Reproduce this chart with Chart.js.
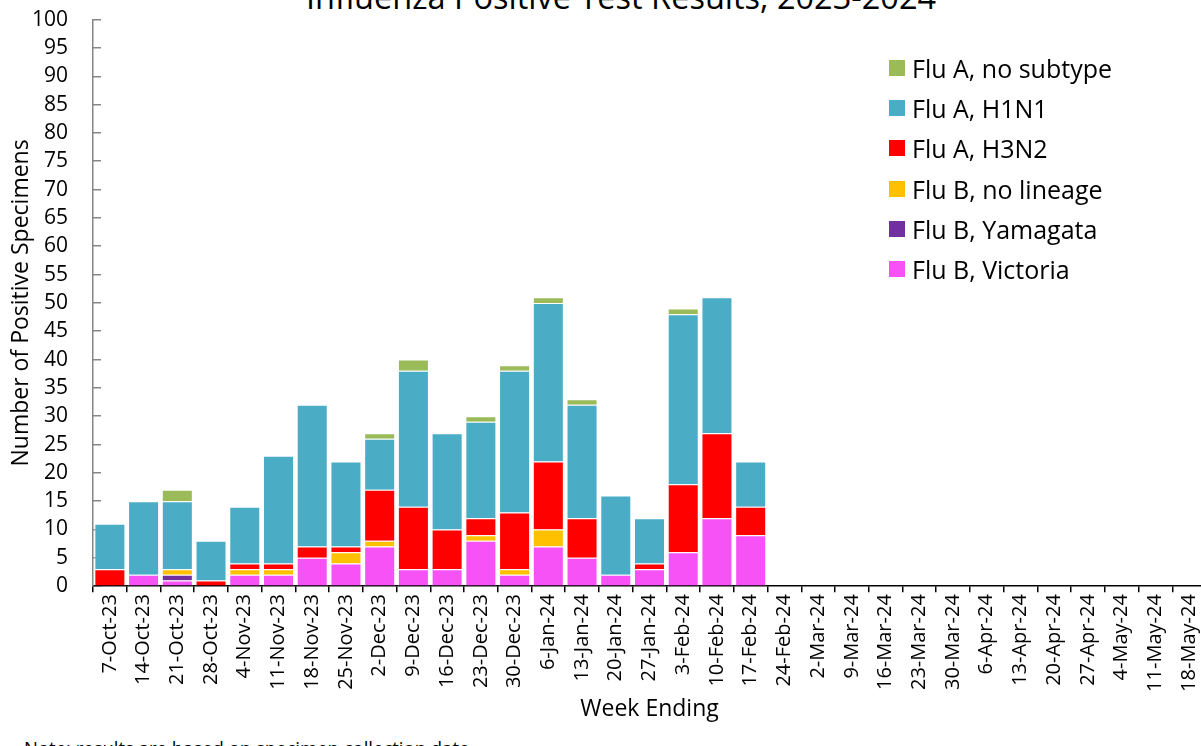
<!DOCTYPE html>
<html>
<head>
<meta charset="utf-8">
<script src="https://cdn.jsdelivr.net/npm/chart.js@4/dist/chart.umd.min.js"></script>
<style>
  html, body {
    margin: 0;
    padding: 0;
    width: 1201px;
    height: 746px;
    overflow: hidden;
    background: #fff;
    font-family: "Open Sans", sans-serif;
    color: #000;
  }
  #chartWrap {
    position: absolute;
    left: 0;
    top: -26.5px;
    width: 1240px;
    height: 749.5px;
  }
  #title {
    position: absolute;
    left: 0;
    width: 1242px;
    top: -19.5px;
    text-align: center;
    font-size: 32.5px;
    line-height: 1;
    white-space: nowrap;
  }
  #note {
    position: absolute;
    left: 24px;
    top: 739px;
    font-size: 18.5px;
    line-height: 1;
    white-space: nowrap;
  }
  #legend {
    position: absolute;
    left: 889px;
    top: 48px;
    font-size: 25px;
  }
  .legend-row {
    display: flex;
    align-items: center;
    height: 40.2px;
  }
  .legend-box {
    width: 16px;
    height: 16px;
    margin-right: 7px;
  }
</style>
</head>
<body>
<div id="title">Influenza Positive Test Results, 2023-2024</div>
<div id="chartWrap"><canvas id="fluChart"></canvas></div>
<div id="legend"></div>
<div id="note">Note: results are based on specimen collection date.</div>
<script>
const weeks = [
  "7-Oct-23", "14-Oct-23", "21-Oct-23", "28-Oct-23",
  "4-Nov-23", "11-Nov-23", "18-Nov-23", "25-Nov-23",
  "2-Dec-23", "9-Dec-23", "16-Dec-23", "23-Dec-23", "30-Dec-23",
  "6-Jan-24", "13-Jan-24", "20-Jan-24", "27-Jan-24",
  "3-Feb-24", "10-Feb-24", "17-Feb-24", "24-Feb-24",
  "2-Mar-24", "9-Mar-24", "16-Mar-24", "23-Mar-24", "30-Mar-24",
  "6-Apr-24", "13-Apr-24", "20-Apr-24", "27-Apr-24",
  "4-May-24", "11-May-24", "18-May-24",
];

// counts per week (weeks after 17-Feb-24 have no data yet)
const fluBVictoria = [0, 2, 1, 0, 2, 2, 5, 4, 7, 3, 3, 8, 2, 7, 5, 2, 3, 6, 12, 9];
const fluBYamagata = [0, 0, 1, 0, 0, 0, 0, 0, 0, 0, 0, 0, 0, 0, 0, 0, 0, 0, 0, 0];
const fluBNoLineage = [0, 0, 1, 0, 1, 1, 0, 2, 1, 0, 0, 1, 1, 3, 0, 0, 0, 0, 0, 0];
const fluAH3N2 = [3, 0, 0, 1, 1, 1, 2, 1, 9, 11, 7, 3, 10, 12, 7, 0, 1, 12, 15, 5];
const fluAH1N1 = [8, 13, 12, 7, 10, 19, 25, 15, 9, 24, 17, 17, 25, 28, 20, 14, 8, 30, 24, 8];
const fluANoSubtype = [0, 0, 2, 0, 0, 0, 0, 0, 1, 2, 0, 1, 1, 1, 1, 0, 0, 1, 0, 0];

const yTicks = { min: 0, max: 100, step: 5 };

const seriesConfig = [
  { label: "Flu B, Victoria", data: fluBVictoria, color: "#F752F5" },
  { label: "Flu B, Yamagata", data: fluBYamagata, color: "#7030A0" },
  { label: "Flu B, no lineage", data: fluBNoLineage, color: "#FFC000" },
  { label: "Flu A, H3N2", data: fluAH3N2, color: "#FF0000" },
  { label: "Flu A, H1N1", data: fluAH1N1, color: "#4BACC6" },
  { label: "Flu A, no subtype", data: fluANoSubtype, color: "#9BBB59" },
];

Chart.defaults.font.family = "'Open Sans', sans-serif";
Chart.defaults.color = "#000";

const chart = new Chart(document.getElementById("fluChart"), {
  type: "bar",
  data: {
    labels: weeks,
    datasets: seriesConfig.map((s) => ({
      label: s.label,
      data: s.data,
      backgroundColor: s.color,
      borderColor: "rgba(255, 255, 255, 0.85)",
      borderWidth: 1,
      barPercentage: 0.92,
      categoryPercentage: 1,
    })),
  },
  options: {
    responsive: true,
    maintainAspectRatio: false,
    animation: false,
    layout: {
      padding: { left: 8, right: 34, top: 7, bottom: 0 },
    },
    plugins: {
      legend: { display: false },
      tooltip: { enabled: false },
    },
    scales: {
      x: {
        stacked: true,
        border: { color: "#000", width: 1.5 },
        grid: {
          drawOnChartArea: false,
          color: "#000",
          tickLength: 6,
          lineWidth: 1.5,
        },
        ticks: {
          autoSkip: false,
          maxRotation: 90,
          minRotation: 90,
          padding: 2,
          font: { size: 20 },
        },
        title: {
          display: true,
          text: "Week Ending",
          font: { size: 23 },
          padding: { top: 2, bottom: 0 },
        },
      },
      y: {
        stacked: true,
        min: yTicks.min,
        max: yTicks.max,
        border: { color: "#868686", width: 1.5 },
        grid: {
          drawOnChartArea: false,
          color: "#868686",
          tickLength: -8,
          lineWidth: 1.5,
        },
        ticks: {
          stepSize: yTicks.step,
          autoSkip: false,
          maxTicksLimit: 30,
          padding: 33,
          font: { size: 21 },
        },
        title: {
          display: true,
          text: "Number of Positive Specimens",
          font: { size: 23 },
          padding: { top: 0, bottom: 0 },
        },
        afterFit: (scale) => {
          scale.width = 85;
        },
      },
    },
  },
});

// legend, top entry = top of the stack
const legendEl = document.getElementById("legend");
chart.data.datasets.slice().reverse().forEach((ds) => {
  const row = document.createElement("div");
  row.className = "legend-row";
  const box = document.createElement("span");
  box.className = "legend-box";
  box.style.background = ds.backgroundColor;
  const text = document.createElement("span");
  text.textContent = ds.label;
  row.appendChild(box);
  row.appendChild(text);
  legendEl.appendChild(row);
});
</script>
</body>
</html>
